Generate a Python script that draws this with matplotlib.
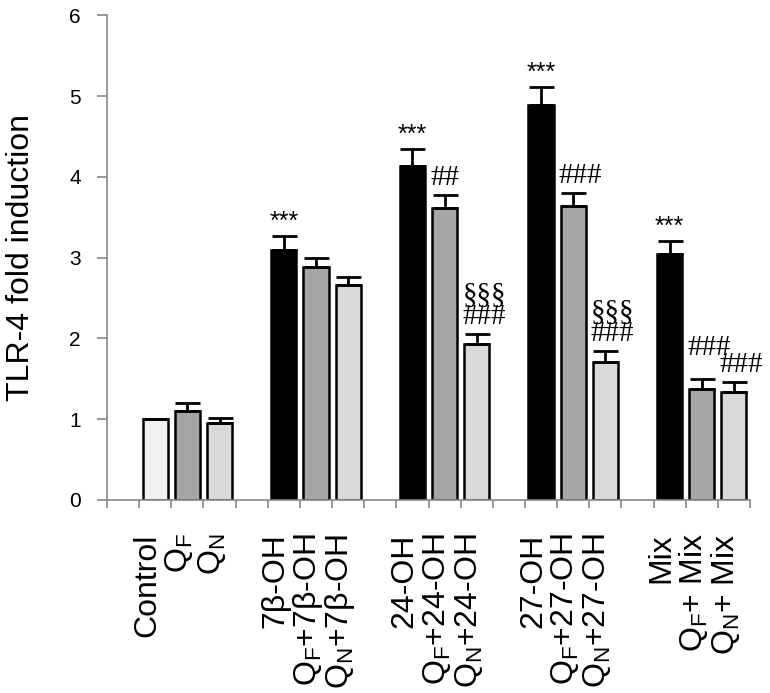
import matplotlib.pyplot as plt
import matplotlib.transforms as mtransforms
import numpy as np

plt.rcParams['font.family'] = ['Liberation Sans', 'DejaVu Sans']
plt.rcParams['mathtext.fontset'] = 'custom'
plt.rcParams['mathtext.rm'] = 'Liberation Sans'

QF = r'Q$_\mathregular{F}$'
QN = r'Q$_\mathregular{N}$'

categories = ['Control', QF, QN,
              '7β-OH', QF + '+7β-OH', QN + '+7β-OH',
              '24-OH', QF + '+24-OH', QN + '+24-OH',
              '27-OH', QF + '+27-OH', QN + '+27-OH',
              'Mix', QF + '+ Mix', QN + '+ Mix']
values = [1.00, 1.10, 0.95,
          3.09, 2.88, 2.66,
          4.14, 3.62, 1.93,
          4.89, 3.64, 1.71,
          3.04, 1.37, 1.34]
errors = [0.00, 0.10, 0.07,
          0.18, 0.12, 0.10,
          0.20, 0.15, 0.12,
          0.22, 0.16, 0.13,
          0.16, 0.13, 0.12]
# significance marks: *** vs control, # vs oxysterol alone, § vs Q_F
stars = ['', '', '', '***', '', '', '***', '', '', '***', '', '', '***', '', '']
hashes = ['', '', '', '', '', '', '', '##', '§§§\n###', '', '###', '§§§\n###', '', '###', '###']

colors = ['#f2f2f2', '#a6a6a6', '#d9d9d9',
          '#000000', '#a6a6a6', '#d9d9d9',
          '#000000', '#a6a6a6', '#d9d9d9',
          '#000000', '#a6a6a6', '#d9d9d9',
          '#000000', '#a6a6a6', '#d9d9d9']

# each group of three gets its own slot block, with an empty slot before it
pos = np.array([(i // 3) * 4 + i % 3 + 1 for i in range(len(categories))])

fig = plt.figure(figsize=(7.7, 6.93), dpi=100)
ax = fig.add_axes([0.139, 0.2785, 0.835, 0.6995])

ax.bar(pos, values, width=0.78, color=colors, edgecolor='black', linewidth=1.8, zorder=2)
ax.errorbar(pos, values, yerr=[np.zeros(len(errors)), errors], fmt='none',
            ecolor='black', elinewidth=2, capsize=9, capthick=2, zorder=3)

for i, (p, v, e, s, h) in enumerate(zip(pos, values, errors, stars, hashes)):
    if s:
        ax.text(p, v + e + 0.03, s, ha='center', va='bottom', fontsize=18)
    if h:
        gap = 0.05
        # lift the mark when the neighbour bar of similar height is marked too
        if i + 1 < len(hashes) and hashes[i + 1] and abs(values[i + 1] - v) < 0.3:
            gap = 0.22
        ax.text(p - 0.45, v + e + gap, h, ha='left', va='bottom', fontsize=21,
                family='Liberation Serif', linespacing=0.75)

ax.set_xlim(-0.5, 19.5)
ax.set_ylim(0, 6)
ax.set_yticks(range(7))
ax.set_ylabel('TLR-4 fold induction', fontsize=23, labelpad=24)
ax.tick_params(axis='y', labelsize=15, length=7, pad=12, color='#888888', width=1.2)

ax.set_xticks(pos)
ax.set_xticklabels(categories, rotation=90, fontsize=23)
ax.set_xticks(np.arange(-0.5, 20, 1), minor=True)
ax.tick_params(axis='x', which='major', length=0, pad=24)
ax.tick_params(axis='x', which='minor', length=6, color='#888888', width=1.2)
shift = mtransforms.ScaledTranslation(-8 / 100, 0, fig.dpi_scale_trans)
for lab in ax.get_xticklabels():
    lab.set_transform(lab.get_transform() + shift)

for side in ['top', 'right']:
    ax.spines[side].set_visible(False)
for side in ['left', 'bottom']:
    ax.spines[side].set_color('#888888')
    ax.spines[side].set_linewidth(1.2)

fig.savefig('out.png', dpi=100)
